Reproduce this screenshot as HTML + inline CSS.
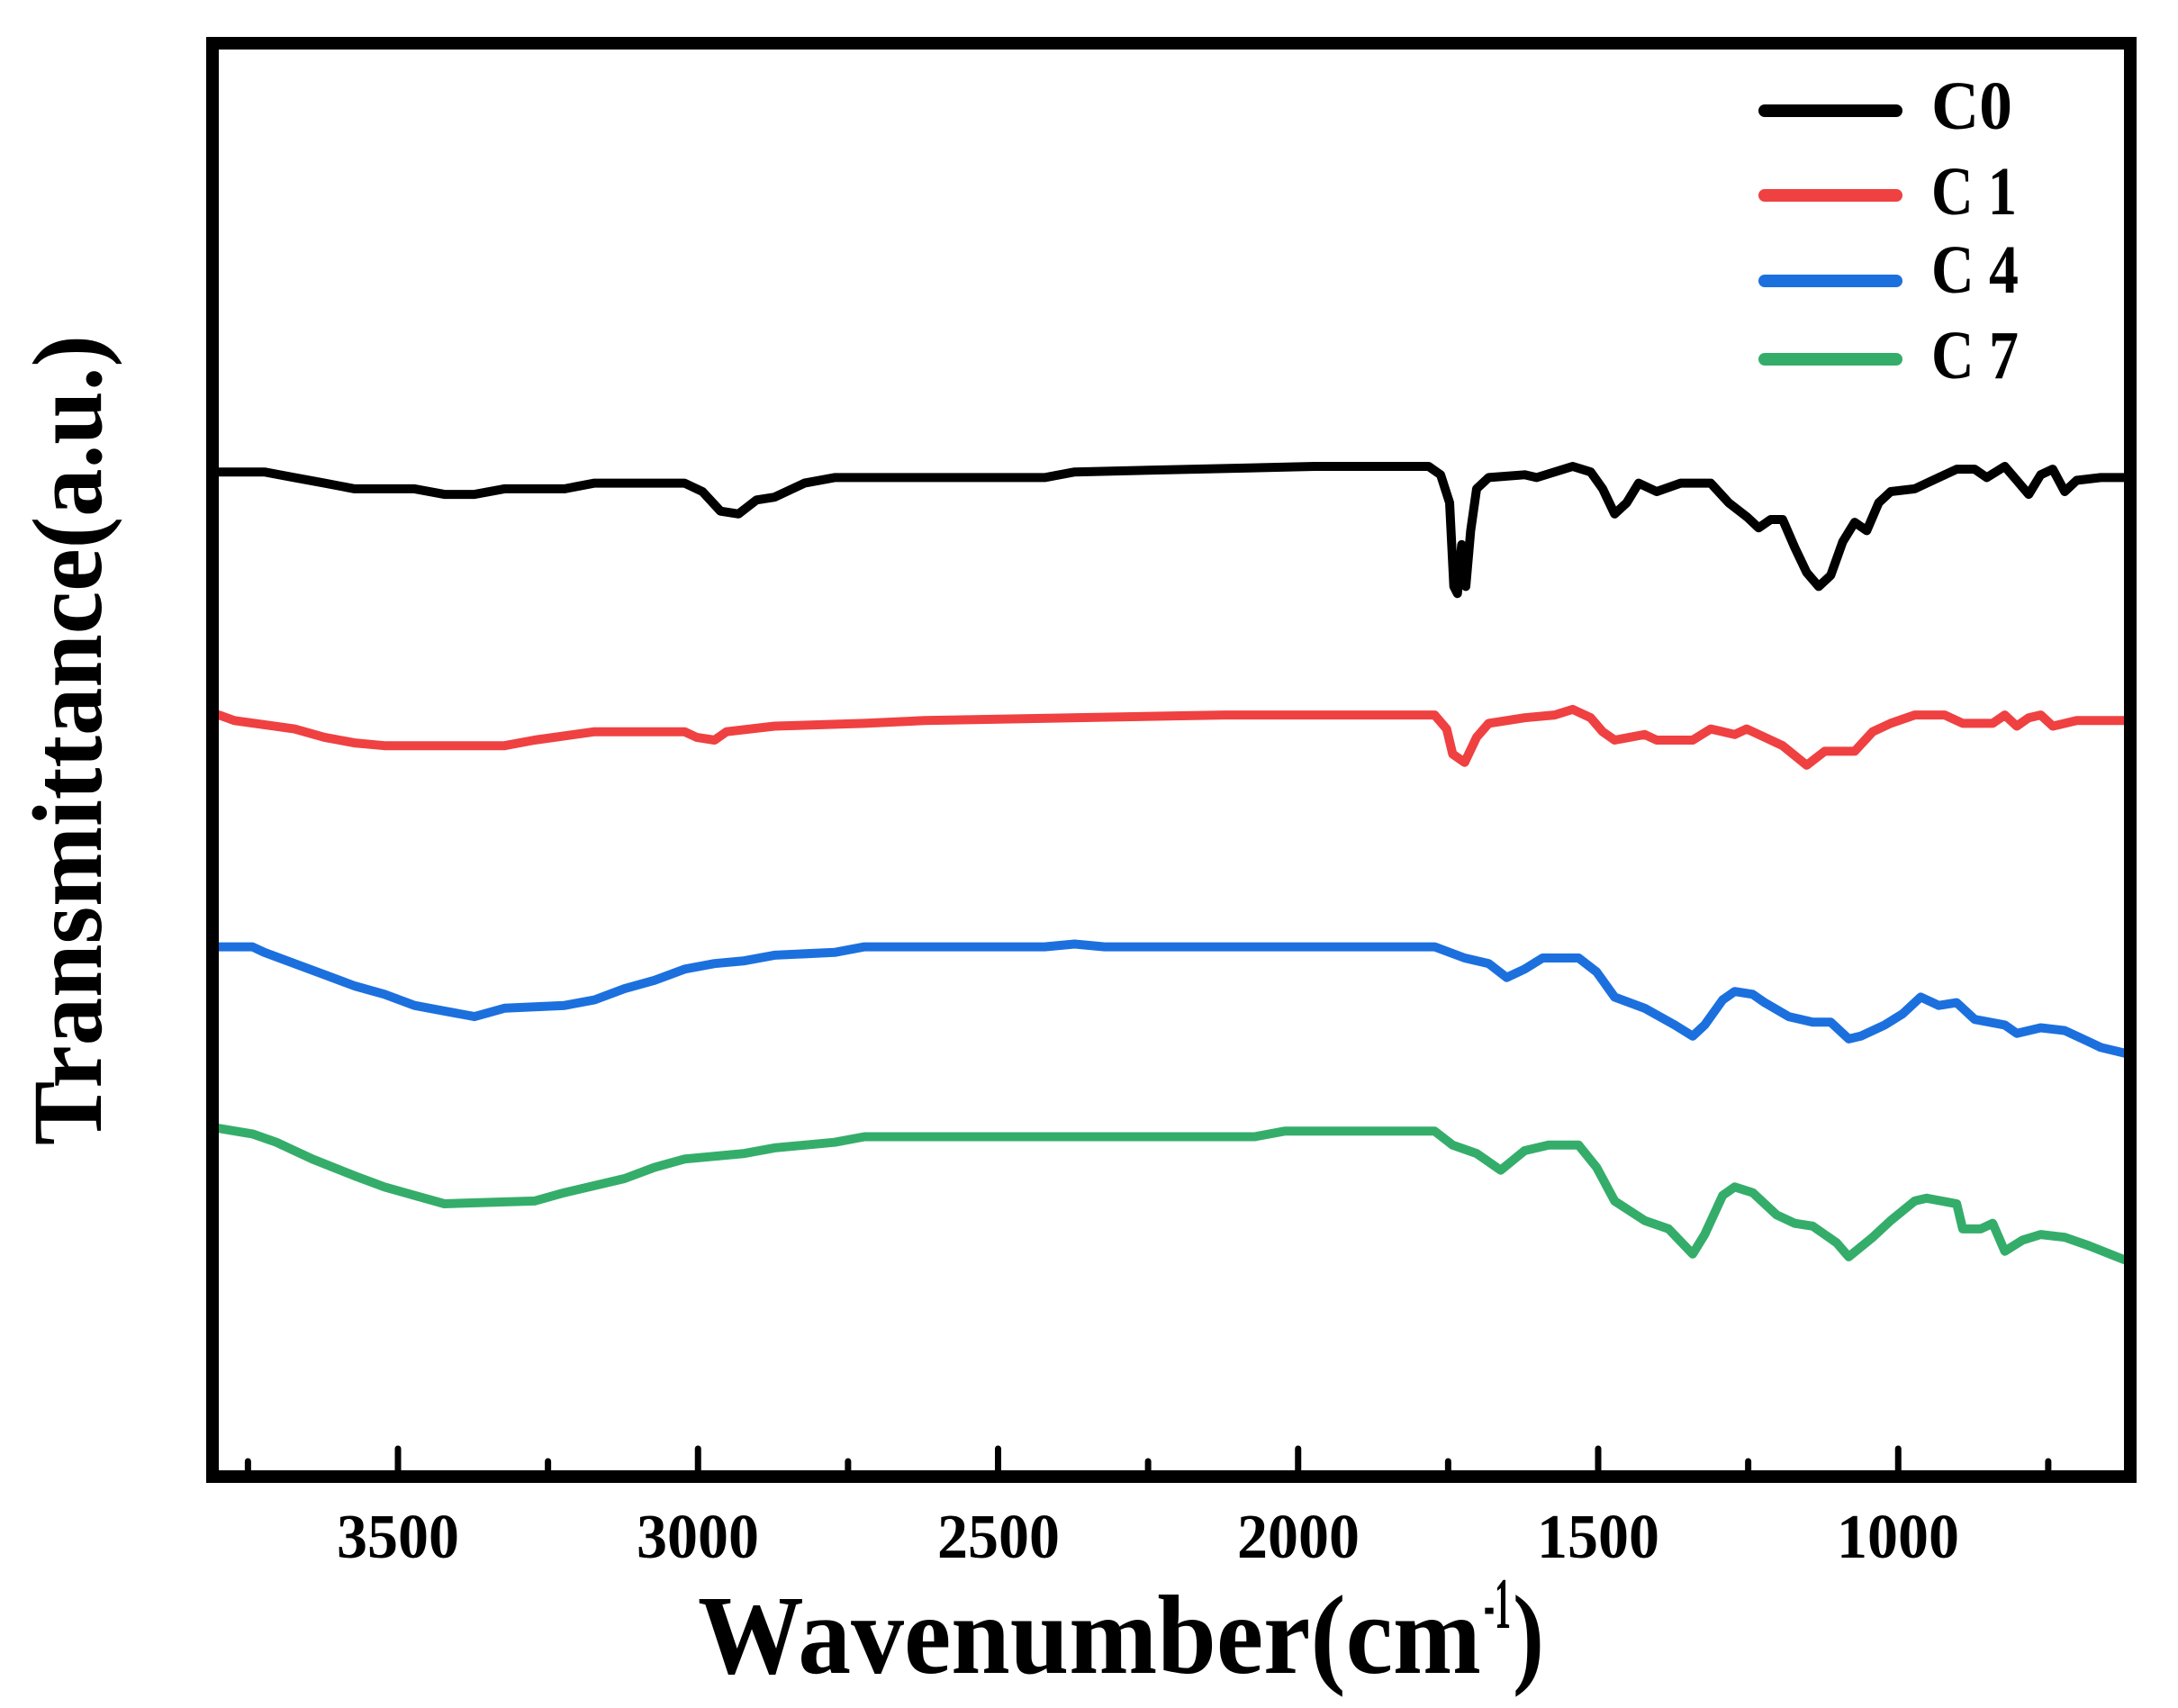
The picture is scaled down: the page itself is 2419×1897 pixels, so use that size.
<!DOCTYPE html>
<html><head><meta charset="utf-8"><style>
html,body{margin:0;padding:0;background:#fff;}
svg{display:block;}
text{font-family:"Liberation Serif","Times New Roman",serif;font-weight:bold;fill:#000;}
</style></head><body>
<svg id="s" width="2419" height="1897" viewBox="0 0 2419 1897" xmlns="http://www.w3.org/2000/svg">
<g id="curves" fill="none" stroke-width="10" stroke-linejoin="round" stroke-linecap="round"></g>
<rect x="236" y="48" width="2130" height="1592" fill="none" stroke="#000" stroke-width="14"/>
<g id="ticks" stroke="#000" stroke-width="7" stroke-linecap="round"></g>
<g font-size="70" text-anchor="middle">
<text x="442" y="1730" textLength="136" lengthAdjust="spacingAndGlyphs">3500</text><text x="775" y="1730" textLength="136" lengthAdjust="spacingAndGlyphs">3000</text><text x="1109" y="1730" textLength="136" lengthAdjust="spacingAndGlyphs">2500</text>
<text x="1442" y="1730" textLength="136" lengthAdjust="spacingAndGlyphs">2000</text><text x="1775" y="1730" textLength="136" lengthAdjust="spacingAndGlyphs">1500</text><text x="2108" y="1730" textLength="136" lengthAdjust="spacingAndGlyphs">1000</text>
</g>
<text x="775" y="1858" font-size="125" textLength="870" lengthAdjust="spacingAndGlyphs">Wavenumber(cm</text>
<text x="1648" y="1808" font-size="80" textLength="30" lengthAdjust="spacingAndGlyphs">-1</text>
<text x="1680" y="1858" font-size="125" textLength="35" lengthAdjust="spacingAndGlyphs">)</text>
<text transform="translate(112,822) rotate(-90)" font-size="110" text-anchor="middle" textLength="900" lengthAdjust="spacingAndGlyphs">Transmittance(a.u.)</text>
<g stroke-width="14" stroke-linecap="round">
<line x1="1960" y1="123" x2="2106" y2="123" stroke="#000"/>
<line x1="1960" y1="217" x2="2106" y2="217" stroke="#ef4141"/>
<line x1="1960" y1="312" x2="2106" y2="312" stroke="#1c70de"/>
<line x1="1960" y1="399" x2="2106" y2="399" stroke="#35ad6a"/>
</g>
<g font-size="76">
<text x="2145" y="143" textLength="90" lengthAdjust="spacingAndGlyphs">C0</text><text x="2145" y="238" textLength="95" lengthAdjust="spacingAndGlyphs">C 1</text>
<text x="2145" y="325" textLength="97" lengthAdjust="spacingAndGlyphs">C 4</text><text x="2145" y="420" textLength="97" lengthAdjust="spacingAndGlyphs">C 7</text>
</g>
</svg>
<script>
var X=function(w){return Math.max(243,427+(3500-w)*0.6665);},Y=function(d){return d*1.551;};
var data={
"#000":[3800,338,3700,338,3650,342,3600,346,3550,350,3450,350,3400,354,3350,354,3300,350,3200,350,3150,346,3000,346,2970,352,2940,366,2910,368,2880,358,2850,356,2800,346,2750,342,2400,342,2350,338,1950,334,1760,334,1740,340,1725,360,1718,420,1712,425,1705,390,1698,420,1690,380,1680,350,1660,342,1600,340,1580,342,1520,334,1490,338,1470,350,1450,368,1430,360,1410,346,1380,352,1340,346,1290,346,1260,360,1230,370,1210,378,1190,372,1170,372,1150,392,1130,410,1110,420,1090,412,1070,388,1050,374,1030,380,1010,360,990,352,950,350,920,344,880,336,850,336,830,342,800,334,780,344,760,354,740,340,720,336,700,352,680,344,640,342,590,342],
"#ef4141":[3800,512,3750,516,3650,522,3600,528,3550,532,3500,534,3300,534,3250,530,3150,524,3000,524,2980,528,2950,530,2930,524,2850,520,2700,518,2600,516,2100,512,1750,512,1730,522,1720,540,1700,546,1680,528,1660,518,1600,514,1550,512,1520,508,1490,514,1470,524,1450,530,1400,526,1380,530,1320,530,1290,522,1250,526,1230,522,1200,528,1170,534,1130,548,1100,538,1050,538,1020,524,990,518,950,512,900,512,870,518,820,518,800,512,780,520,760,514,740,512,720,520,680,516,590,516],
"#1c70de":[3800,678,3720,678,3700,682,3650,690,3600,698,3550,706,3500,712,3450,720,3400,724,3350,728,3300,722,3200,720,3150,716,3100,708,3050,702,3000,694,2950,690,2900,688,2850,684,2750,682,2700,678,2400,678,2350,676,2300,678,1750,678,1700,686,1660,690,1630,700,1600,694,1570,686,1510,686,1480,696,1450,714,1400,722,1350,734,1320,742,1300,734,1270,716,1250,710,1220,712,1200,718,1160,728,1120,732,1090,732,1060,744,1040,742,1000,734,970,726,940,714,910,720,880,718,850,730,800,734,780,740,740,736,700,738,660,746,640,750,590,754],
"#35ad6a":[3800,808,3720,812,3680,818,3620,830,3550,842,3500,850,3450,856,3400,862,3250,860,3200,854,3100,844,3050,836,3000,830,2900,826,2850,822,2750,818,2700,814,2050,814,2000,810,1750,810,1720,820,1680,826,1640,838,1600,824,1560,820,1510,820,1480,836,1450,860,1400,874,1360,880,1320,898,1300,884,1270,856,1250,850,1220,854,1180,870,1150,876,1120,878,1080,890,1060,900,1020,886,990,874,950,860,930,858,880,862,870,880,840,880,820,876,800,896,770,888,740,884,700,886,660,892,590,902]};
var ns="http://www.w3.org/2000/svg",g=document.getElementById("curves");
for(var c in data){var a=data[c],p=[];for(var i=0;i<a.length;i+=2)p.push(Math.min(2359,X(a[i])).toFixed(1)+","+Y(a[i+1]).toFixed(1));
var pl=document.createElementNS(ns,"polyline");pl.setAttribute("points",p.join(" "));pl.setAttribute("stroke",c);g.appendChild(pl);}
var t=document.getElementById("ticks");
for(var w=3750;w>=650;w-=250){var l=document.createElementNS(ns,"line"),x=442+(3500-w)*0.6665;
l.setAttribute("x1",x);l.setAttribute("x2",x);l.setAttribute("y1",1633);l.setAttribute("y2",(w%500==0)?1609:1623);t.appendChild(l);}
</script>
</body></html>
